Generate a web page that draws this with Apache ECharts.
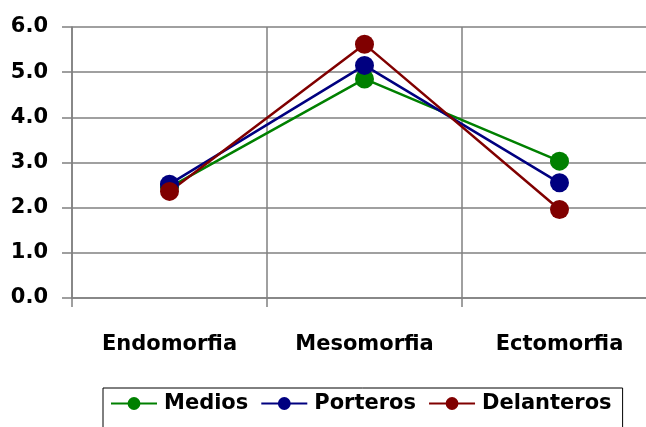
<!DOCTYPE html>
<html>
<head>
<meta charset="utf-8">
<script src="https://cdn.jsdelivr.net/npm/echarts@6/dist/echarts.min.js"></script>
<style>html,body{margin:0;padding:0;background:#fff;overflow:hidden}#wrap{width:646px;height:427px;overflow:hidden}#c{width:670px;height:427px}</style>
</head>
<body>
<div id="wrap"><div id="c"></div></div>
<script>
const categories = ['Endomorfia', 'Mesomorfia', 'Ectomorfia'];
const medios = [2.45, 4.85, 3.03];
const porteros = [2.52, 5.15, 2.55];
const delanteros = [2.36, 5.62, 1.96];
const seriesNames = ['Medios', 'Porteros', 'Delanteros'];
const colors = ['#008000', '#000080', '#800000'];

const font = 'DejaVu Sans';
const chart = echarts.init(document.getElementById('c'), null, {renderer: 'canvas'});
function mk(name, data, color) {
  return {
    name, type: 'line', data,
    symbol: 'circle', symbolSize: 19,
    lineStyle: {color, width: 2.5},
    itemStyle: {color},
    emphasis: {disabled: true},
    animation: false
  };
}
chart.setOption({
  animation: false,
  grid: {left: 72, top: 27, width: 585, height: 271, containLabel: false},
  xAxis: {
    type: 'category', data: categories, boundaryGap: true,
    axisLine: {lineStyle: {color: '#808080', width: 1.5}},
    axisTick: {show: true, length: 9, lineStyle: {color: '#808080', width: 1.5}},
    splitLine: {show: true, lineStyle: {color: '#808080', width: 1.5}},
    axisLabel: {color: '#000', fontFamily: font, fontWeight: 'bold', fontSize: 21, margin: 36}
  },
  yAxis: {
    type: 'value', min: 0, max: 6, interval: 1,
    axisLine: {show: true, lineStyle: {color: '#808080', width: 1.5}},
    axisTick: {show: true, length: 10, lineStyle: {color: '#808080', width: 1.5}},
    splitLine: {show: true, lineStyle: {color: '#808080', width: 1.5}},
    axisLabel: {color: '#000', fontFamily: font, fontWeight: 'bold', fontSize: 21, margin: 24,
      formatter: v => v.toFixed(1)}
  },
  legend: {
    data: seriesNames,
    left: 103, top: 388,
    padding: [5, 11, 30, 7],
    borderColor: '#000', borderWidth: 1,
    itemWidth: 46, itemHeight: 16, itemGap: 12,
    textStyle: {color: '#000', fontFamily: font, fontWeight: 'bold', fontSize: 21, padding: [0, 0, 0, 2]}
  },
  series: [
    mk(seriesNames[0], medios, colors[0]),
    mk(seriesNames[1], porteros, colors[1]),
    mk(seriesNames[2], delanteros, colors[2])
  ]
});
</script>
</body>
</html>
